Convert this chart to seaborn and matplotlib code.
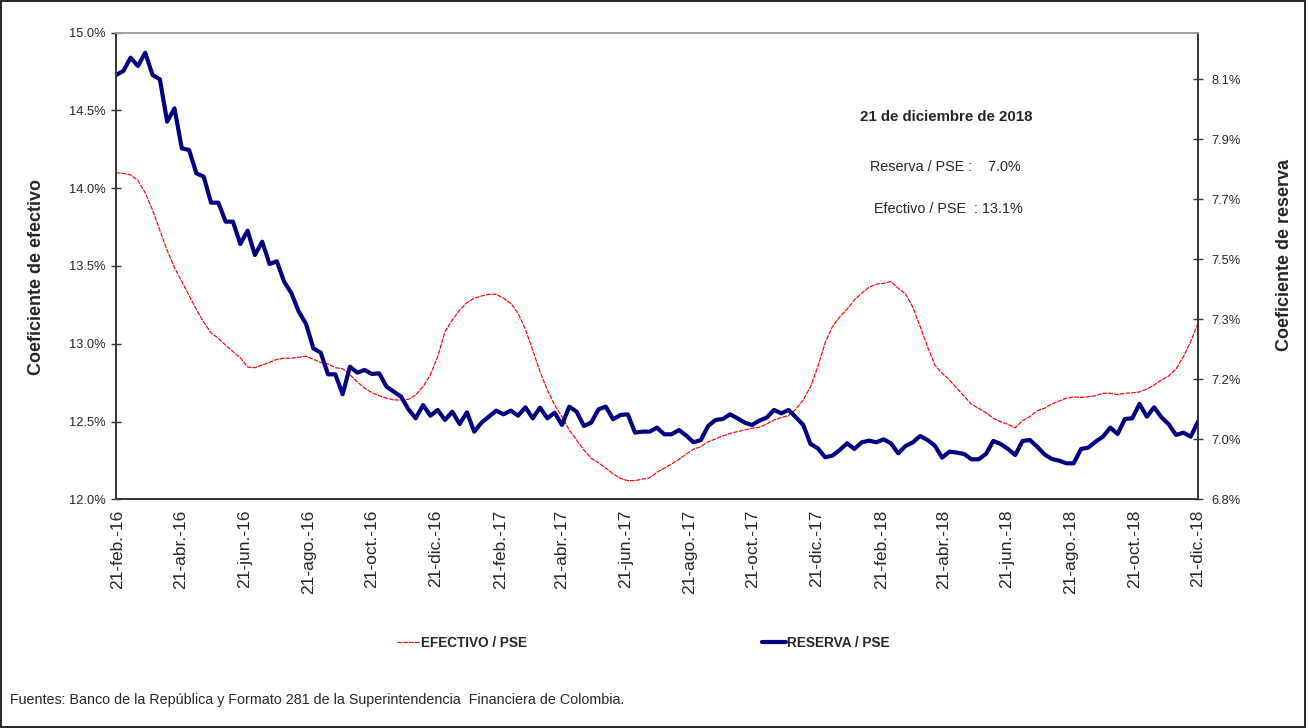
import numpy as np
import pandas as pd
import matplotlib
matplotlib.use("Agg")
import matplotlib.pyplot as plt
import seaborn as sns
from matplotlib.patches import Rectangle

# ---------------- data ----------------
fechas = pd.date_range(end="2018-12-21", periods=149, freq="7D")

efectivo_pse = [
    14.10, 14.095, 14.086, 14.05, 13.97, 13.86, 13.73, 13.60, 13.49, 13.40,
    13.31, 13.22, 13.14, 13.07, 13.035, 12.99, 12.95, 12.91, 12.85, 12.846,
    12.864, 12.88, 12.90, 12.907, 12.907, 12.913, 12.92, 12.90, 12.88, 12.87,
    12.846, 12.84, 12.80, 12.756, 12.714, 12.686, 12.666, 12.65, 12.639, 12.639,
    12.643, 12.671, 12.724, 12.80, 12.917, 13.078, 13.153, 13.217, 13.264, 13.293,
    13.307, 13.318, 13.318, 13.293, 13.26, 13.196, 13.093, 12.96, 12.82, 12.703,
    12.606, 12.531, 12.446, 12.381, 12.317, 12.264, 12.235, 12.20, 12.163, 12.135,
    12.12, 12.12, 12.13, 12.138, 12.174, 12.20, 12.227, 12.257, 12.291, 12.322,
    12.338, 12.37, 12.388, 12.407, 12.424, 12.435, 12.446, 12.457, 12.463, 12.484,
    12.51, 12.525, 12.538, 12.579, 12.639, 12.724, 12.853, 13.007, 13.11, 13.174,
    13.222, 13.282, 13.325, 13.363, 13.383, 13.389, 13.40, 13.357, 13.32, 13.235,
    13.11, 12.981, 12.864, 12.81, 12.767, 12.714, 12.664, 12.611, 12.585, 12.557,
    12.521, 12.499, 12.482, 12.46, 12.506, 12.531, 12.57, 12.585, 12.613, 12.632,
    12.65, 12.658, 12.654, 12.66, 12.666, 12.682, 12.682, 12.673, 12.682, 12.684,
    12.69, 12.709, 12.735, 12.767, 12.793, 12.838, 12.917, 13.014, 13.132,
]

reserva_pse = [
    8.073, 8.085, 8.125, 8.10, 8.14, 8.073, 8.06, 7.933, 7.973, 7.853,
    7.848, 7.778, 7.768, 7.69, 7.69, 7.633, 7.633, 7.566, 7.606, 7.533,
    7.573, 7.506, 7.514, 7.453, 7.418, 7.363, 7.326, 7.253, 7.24, 7.175,
    7.175, 7.115, 7.198, 7.18, 7.188, 7.176, 7.178, 7.138, 7.123, 7.108,
    7.07, 7.043, 7.083, 7.051, 7.068, 7.038, 7.063, 7.026, 7.061, 7.003,
    7.03, 7.048, 7.066, 7.055, 7.066, 7.051, 7.076, 7.043, 7.075, 7.043,
    7.06, 7.023, 7.078, 7.063, 7.02, 7.03, 7.07, 7.078, 7.04, 7.053,
    7.055, 7.0, 7.003, 7.003, 7.015, 6.995, 6.995, 7.008, 6.991, 6.971,
    6.978, 7.02, 7.038, 7.041, 7.055, 7.043, 7.03, 7.023, 7.036, 7.045,
    7.068, 7.058, 7.068, 7.046, 7.023, 6.966, 6.953, 6.926, 6.931, 6.948,
    6.968, 6.951, 6.971, 6.976, 6.971, 6.98, 6.968, 6.938, 6.96, 6.971,
    6.99, 6.978, 6.961, 6.925, 6.943, 6.94, 6.936, 6.92, 6.92, 6.936,
    6.975, 6.966, 6.951, 6.933, 6.975, 6.978, 6.958, 6.935, 6.921, 6.916,
    6.908, 6.908, 6.951, 6.955, 6.973, 6.988, 7.015, 6.996, 7.041, 7.043,
    7.086, 7.048, 7.076, 7.046, 7.025, 6.993, 7.0, 6.988, 7.033,
]

tick_fechas = pd.to_datetime([
    "2016-02-21", "2016-04-21", "2016-06-21", "2016-08-21", "2016-10-21", "2016-12-21",
    "2017-02-21", "2017-04-21", "2017-06-21", "2017-08-21", "2017-10-21", "2017-12-21",
    "2018-02-21", "2018-04-21", "2018-06-21", "2018-08-21", "2018-10-21", "2018-12-21",
])
tick_etiquetas = [
    "21-feb.-16", "21-abr.-16", "21-jun.-16", "21-ago.-16", "21-oct.-16", "21-dic.-16",
    "21-feb.-17", "21-abr.-17", "21-jun.-17", "21-ago.-17", "21-oct.-17", "21-dic.-17",
    "21-feb.-18", "21-abr.-18", "21-jun.-18", "21-ago.-18", "21-oct.-18", "21-dic.-18",
]
etiqueta_efectivo = "EFECTIVO / PSE"
etiqueta_reserva = "RESERVA / PSE"

df = pd.DataFrame({"fecha": fechas, "efectivo": efectivo_pse, "reserva": reserva_pse})

# ---------------- style ----------------
sns.set_style("white")
FAM = ["Liberation Sans", "DejaVu Sans"]
plt.rcParams["font.family"] = FAM

W, H = 1308, 728
fig = plt.figure(figsize=(W / 100, H / 100), dpi=100)
fig.patch.set_facecolor("white")

x0, x1 = 116, 1198
y0, y1 = 32.7, 499.3
ax = fig.add_axes([x0 / W, 1 - y1 / H, (x1 - x0) / W, (y1 - y0) / H])
ax2 = ax.twinx()

sns.lineplot(data=df, x="fecha", y="efectivo", ax=ax, color="#ff0000",
             lw=0.85, linestyle=(0, (4, 0.9)), label=etiqueta_efectivo)
sns.lineplot(data=df, x="fecha", y="reserva", ax=ax2, color="#000080",
             lw=3.0, label=etiqueta_reserva)

for a in (ax, ax2):
    if a.get_legend() is not None:
        a.get_legend().remove()

ax.set_xlim(fechas[0], fechas[-1])
ax.set_ylim(12.0, 15.0)
ax2.set_ylim(6.8, 8.2)

left_ticks = np.arange(12.0, 15.01, 0.5)
right_ticks = np.round(6.8 + 0.18 * np.arange(8), 2)
ax.set_yticks(left_ticks)
ax.set_yticklabels([f"{v:.1f}%" for v in left_ticks], fontsize=9.3)
ax2.set_yticks(right_ticks)
ax2.set_yticklabels([f"{v:.1f}%" for v in right_ticks], fontsize=9.3)

ax.set_xticks(tick_fechas)
ax.set_xticklabels(tick_etiquetas, rotation=90, fontsize=12.5)

ax.tick_params(axis="y", direction="inout", length=7, width=1, color="#333333", pad=4)
ax2.tick_params(axis="y", direction="inout", length=7, width=1, color="#333333", pad=6)
ax.tick_params(axis="x", direction="inout", length=9, width=1, color="#333333", pad=3)
ax2.tick_params(axis="x", length=0)

for a in (ax, ax2):
    for side in ("left", "right", "bottom"):
        a.spines[side].set_color("#333333")
        a.spines[side].set_linewidth(1.2)
    a.spines["top"].set_color("#a0a0a0")
    a.spines["top"].set_linewidth(1.2)
    a.grid(False)

ax.set_xlabel("")
ax.set_ylabel("Coeficiente de efectivo", fontsize=13, fontweight="bold")
ax2.set_ylabel("Coeficiente de reserva", fontsize=13, fontweight="bold")
ax.yaxis.set_label_coords((45 - x0) / (x1 - x0), (y1 - 277) / (y1 - y0))
ax2.yaxis.set_label_coords((1276 - x0) / (x1 - x0), (y1 - 255) / (y1 - y0))

# annotation box
fig.text(946 / W, 1 - 117 / H, "21 de diciembre de 2018", ha="center", va="center",
         fontsize=10.8, fontweight="bold")
fig.text(870 / W, 1 - 167 / H, "Reserva / PSE :    7.0%", ha="left", va="center", fontsize=10.4)
fig.text(874 / W, 1 - 209 / H, "Efectivo / PSE  : 13.1%", ha="left", va="center", fontsize=10.4)

# legend
h1 = ax.get_lines()[0]
h2 = ax2.get_lines()[0]
fig.legend([h1, h2], [etiqueta_efectivo, etiqueta_reserva], loc="center",
           bbox_to_anchor=(643 / W, 1 - 643 / H), ncol=2, frameon=False,
           handlelength=1.7, handletextpad=0.08, columnspacing=17.3,
           prop=dict(weight="bold", size=9.8))

fig.text(10 / W, 1 - 700 / H,
         "Fuentes: Banco de la República y Formato 281 de la Superintendencia  Financiera de Colombia.",
         ha="left", va="center", fontsize=10.3)

fig.patches.append(Rectangle((0.0008, 0.001), 0.9970, 0.998, transform=fig.transFigure,
                             fill=False, edgecolor="#000000", lw=1.2))

fig.savefig("out.png", dpi=100)
